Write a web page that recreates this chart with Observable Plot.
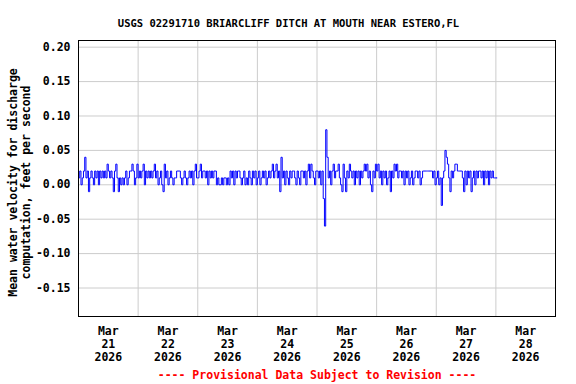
<!DOCTYPE html>
<html><head><meta charset="utf-8">
<script src="https://cdn.jsdelivr.net/npm/d3@7"></script>
<script src="https://cdn.jsdelivr.net/npm/@observablehq/plot@0.6"></script>
<style>body{margin:0;background:#fff}</style>
</head><body><div id="chart"></div>
<script>
const title = "USGS 02291710 BRIARCLIFF DITCH AT MOUTH NEAR ESTERO,FL";
const yLabel = "Mean water velocity for discharge\ncomputation, feet per second";
const caption = "---- Provisional Data Subject to Revision ----";

// half-hourly values starting 2026-03-21 00:00
const mar21 = [0.01,0.02,0.00,0.01,0.02,0.04,0.01,0.02,-0.01,0.01,
  0.02,0.01,0.00,0.02,0.01,0.02,0.00,0.02,0.01,0.02,
  0.01,0.02,0.01,0.03,0.02,0.01,0.02,0.01,-0.01,0.02,
  0.03,0.01,-0.01,0.01,0.00,0.01,0.00,0.01,0.02,0.00,
  0.01,0.02,0.02,0.03,0.02,0.00,0.01,0.03];
const mar22 = [0.01,0.02,0.01,0.02,0.03,0.00,0.02,0.01,0.02,0.01,
  0.02,0.01,0.02,0.03,0.01,0.02,0.00,0.01,0.02,0.00,
  -0.01,0.03,0.01,0.02,0.00,0.01,0.02,0.01,0.00,0.01,
  0.01,0.02,0.02,0.02,0.01,0.00,0.01,0.02,0.01,0.00,
  0.01,0.02,0.01,0.02,0.00,0.02,0.03,0.01];
const mar23 = [0.01,0.02,0.03,0.01,0.02,0.02,0.01,0.02,0.00,0.02,
  0.01,0.02,0.01,0.02,0.02,0.00,0.01,0.00,0.00,0.01,
  0.00,0.01,0.01,0.00,0.01,0.00,0.02,0.01,0.02,0.00,
  0.02,0.01,0.02,0.02,0.01,0.00,0.01,0.02,0.00,0.01,
  0.00,0.02,0.01,0.00,0.02,0.01,0.02,0.00];
const mar24 = [0.01,0.02,0.00,0.01,0.02,0.01,0.02,0.00,0.01,0.02,
  0.01,0.02,0.03,0.01,0.02,0.03,0.01,0.02,-0.01,0.04,
  0.01,0.02,0.00,0.02,0.01,0.00,0.02,0.01,0.02,0.02,
  0.01,0.00,0.02,0.01,0.00,0.02,0.02,0.01,0.02,0.00,
  0.02,0.03,0.01,0.03,0.02,0.01,0.00,0.02];
const mar25 = [0.02,0.01,0.02,0.00,0.02,-0.02,-0.06,0.08,0.04,0.01,
  0.02,0.00,0.02,0.03,0.01,0.02,0.02,0.03,0.01,0.00,
  -0.01,0.03,0.01,-0.01,0.02,0.01,0.03,0.02,0.01,0.02,
  0.00,0.02,0.01,0.02,0.00,0.02,0.01,0.02,0.03,0.02,
  0.03,0.01,0.02,0.00,-0.01,0.02,0.01,0.03];
const mar26 = [0.02,0.03,0.01,0.02,0.00,0.02,0.01,0.02,0.00,0.01,
  0.02,-0.01,0.02,0.01,0.03,0.02,0.03,0.01,0.02,0.02,
  0.01,0.02,0.00,0.02,0.01,0.02,0.00,0.01,0.02,0.00,
  0.01,0.02,0.02,0.01,0.02,0.00,0.01,0.02,0.02,0.02,
  0.02,0.02,0.02,0.02,0.02,0.01,0.02,0.00];
const mar27 = [0.01,0.02,0.00,0.01,-0.03,0.01,0.02,0.05,0.04,0.03,
  0.01,-0.01,0.02,0.01,0.02,0.03,0.03,0.02,0.02,0.02,
  0.02,0.01,-0.01,0.02,0.00,0.02,0.01,0.02,-0.01,0.01,
  0.02,0.00,0.02,0.01,0.02,0.02,0.01,0.02,0.00,0.02,
  0.01,0.02,0.00,0.02,0.01,0.02,0.01,0.01];
const mar28 = [0.01,0.01];

const tickDays = [21,22,23,24,25,26,27,28];
const gridDays = [22,23,24,25,26,27,28];
const yTicks = [-0.15,-0.10,-0.05,0.00,0.05,0.10,0.15,0.20];

const startMs = Date.UTC(2026,2,21,0,0);
const stepMs = 30*60*1000;
const values = [...mar21,...mar22,...mar23,...mar24,...mar25,...mar26,...mar27,...mar28];
const data = values.map((v,i) => ({t: new Date(startMs + i*stepMs), v}));

const noon = d => new Date(Date.UTC(2026,2,d,12));
const midnight = d => new Date(Date.UTC(2026,2,d,0));

const font = "'DejaVu Sans Mono', monospace";

const chart = Plot.plot({
  width: 576, height: 384,
  marginLeft: 78, marginRight: 21, marginTop: 40, marginBottom: 68,
  style: {fontFamily: font, fontSize: "11.5px", fontWeight: "bold", background: "#fff", color: "#000"},
  x: {type: "utc", domain: [midnight(21), midnight(29)]},
  y: {domain: [-0.1914, 0.2097]},
  marks: [
    Plot.ruleY(yTicks, {stroke: "#cccccc", strokeWidth: 1, strokeOpacity: 1}),
    Plot.ruleX(gridDays.map(midnight), {stroke: "#cccccc", strokeWidth: 1, strokeOpacity: 1}),
    Plot.line(data, {x: "t", y: "v", stroke: "#0000ff", strokeWidth: 1, curve: "step-after"}),
    Plot.frame({stroke: "#000", strokeWidth: 1}),
    Plot.axisY(yTicks, {tickSize: 0, tickPadding: 8, label: null, tickFormat: d => d.toFixed(2), fontWeight: "bold"}),
    Plot.axisX(tickDays.map(noon), {tickSize: 0, tickPadding: 9, label: null, lineHeight: 1.15,
      tickFormat: d => "Mar\n" + d.getUTCDate() + "\n" + d.getUTCFullYear()}),
    Plot.text([title], {frameAnchor: "top", dx: -28.5, dy: -21, fontSize: 10.5, fill: "#000"}),
    Plot.text([yLabel], {frameAnchor: "left", textAnchor: "middle", lineAnchor: "middle", rotate: -90, dx: -59.5, dy: 4, lineHeight: 1.15, fill: "#000"}),
    Plot.text([caption], {frameAnchor: "bottom", dx: 0, dy: 62, fill: "#ff0000"})
  ]
});
document.getElementById("chart").appendChild(chart);
</script>
</body></html>
